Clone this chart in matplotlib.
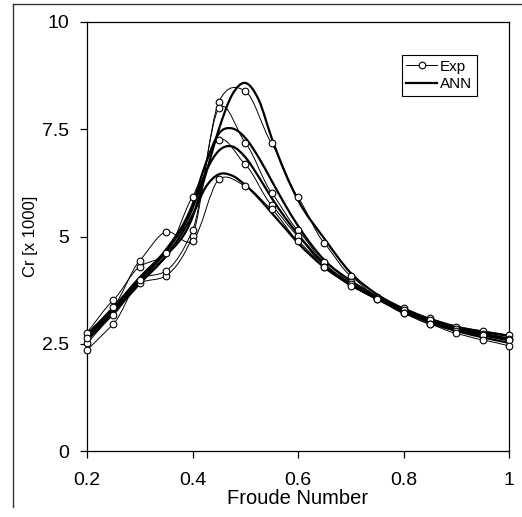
import numpy as np
import matplotlib
matplotlib.use("Agg")
import matplotlib.pyplot as plt
from matplotlib.path import Path
from matplotlib.patches import PathPatch
from matplotlib.lines import Line2D

plt.rcParams['font.family'] = ['Liberation Sans', 'DejaVu Sans']

# ---- data ----
fn_exp = [0.2, 0.25, 0.3, 0.35, 0.4, 0.45, 0.5, 0.55, 0.6, 0.65, 0.7, 0.75, 0.8, 0.85, 0.9, 0.95, 1.0]
exp1 = [2.51, 3.17, 3.91, 4.09, 5.01, 8.14, 8.39, 7.17, 5.91, 4.84, 4.08, 3.60, 3.33, 3.09, 2.90, 2.80, 2.70]
exp2 = [2.35, 2.96, 3.99, 4.20, 5.14, 7.99, 7.19, 6.02, 5.14, 4.41, 3.95, 3.57, 3.28, 3.05, 2.85, 2.72, 2.62]
exp3 = [2.76, 3.52, 4.30, 4.61, 5.93, 7.26, 6.68, 5.73, 5.01, 4.30, 3.90, 3.54, 3.21, 2.96, 2.80, 2.70, 2.59]
exp4 = [2.63, 3.36, 4.44, 5.11, 4.90, 6.33, 6.18, 5.63, 4.90, 4.30, 3.85, 3.54, 3.21, 2.96, 2.74, 2.59, 2.45]

fn_ann = [0.2, 0.25, 0.3, 0.35, 0.4, 0.425, 0.45, 0.475, 0.5, 0.525, 0.55, 0.575, 0.6,
          0.65, 0.7, 0.75, 0.8, 0.85, 0.9, 0.95, 1.0]
ann1 = [2.62, 3.25, 3.95, 4.55, 5.45, 6.45, 7.50, 8.30, 8.58, 8.20, 7.30, 6.50, 5.85,
        4.95, 4.15, 3.65, 3.32, 3.08, 2.90, 2.78, 2.68]
ann2 = [2.72, 3.35, 4.05, 4.70, 5.75, 6.70, 7.40, 7.52, 7.30, 6.85, 6.30, 5.75, 5.25,
        4.45, 3.97, 3.60, 3.30, 3.06, 2.87, 2.74, 2.62]
ann3 = [2.68, 3.30, 4.00, 4.65, 5.65, 6.50, 7.00, 7.10, 6.85, 6.40, 5.90, 5.45, 5.05,
        4.35, 3.90, 3.56, 3.26, 3.03, 2.84, 2.70, 2.58]
ann4 = [2.58, 3.22, 3.90, 4.55, 5.50, 6.15, 6.45, 6.42, 6.20, 5.90, 5.55, 5.20, 4.85,
        4.28, 3.87, 3.54, 3.24, 3.00, 2.80, 2.65, 2.52]

xticks = [0.2, 0.4, 0.6, 0.8, 1.0]
xticklabels = ["0.2", "0.4", "0.6", "0.8", "1"]
yticks = [0, 2.5, 5, 7.5, 10]
yticklabels = ["0", "2.5", "5", "7.5", "10"]


def smooth_path(x, y, tension=1.0):
    x = np.asarray(x, float)
    y = np.asarray(y, float)
    h = np.diff(x)
    d = np.diff(y) / h
    m = np.empty_like(y)
    m[0] = d[0]
    m[-1] = d[-1]
    for i in range(1, len(x) - 1):
        m[i] = tension * (h[i] * d[i - 1] + h[i - 1] * d[i]) / (h[i - 1] + h[i])
    verts = [(x[0], y[0])]
    codes = [Path.MOVETO]
    for i in range(len(x) - 1):
        hh = h[i]
        verts += [(x[i] + hh / 3, y[i] + m[i] * hh / 3),
                  (x[i + 1] - hh / 3, y[i + 1] - m[i + 1] * hh / 3),
                  (x[i + 1], y[i + 1])]
        codes += [Path.CURVE4] * 3
    return Path(verts, codes)


W, H = 522, 517
fig = plt.figure(figsize=(W / 100, H / 100), dpi=100)
ax = fig.add_axes([87 / W, 1 - 451 / H, 422 / W, 429 / H])

for a in [ann1, ann2, ann3, ann4]:
    ax.add_patch(PathPatch(smooth_path(fn_ann, a), fill=False, edgecolor='black',
                           linewidth=1.6, zorder=2))
for e in [exp1, exp2, exp3, exp4]:
    ax.add_patch(PathPatch(smooth_path(fn_exp, e, tension=0.75), fill=False,
                           edgecolor='black', linewidth=0.7, zorder=3))
    ax.plot(fn_exp, e, linestyle='none', marker='o', ms=4.8, mfc='white',
            mec='black', mew=0.8, zorder=4, clip_on=False)

ax.set_xlim(0.2, 1.0)
ax.set_ylim(0, 10)
ax.set_xticks(xticks)
ax.set_xticklabels(xticklabels)
ax.set_yticks(yticks)
ax.set_yticklabels(yticklabels)
ax.tick_params(axis='both', direction='out', length=5, width=0.9, color='black',
               labelsize=14)
ax.tick_params(axis='x', pad=10)
ax.tick_params(axis='y', pad=8)
for s in ax.spines.values():
    s.set_linewidth(0.9)
    s.set_color('black')

ax.set_xlabel("Froude Number", fontsize=14.5, labelpad=0)
ax.set_ylabel("Cr [x 1000]", fontsize=12, labelpad=3)

handles = [Line2D([], [], color='black', lw=0.7, marker='o', ms=4.8, mfc='white',
                  mec='black', mew=0.8),
           Line2D([], [], color='black', lw=1.6)]
leg = ax.legend(handles, ["Exp", "ANN"], loc='upper left',
                bbox_to_anchor=(0.746, 0.923), fontsize=11, handlelength=2.0,
                handletextpad=0.2, borderpad=0.3, labelspacing=0.25,
                borderaxespad=0, fancybox=False, framealpha=1)
leg.get_frame().set_edgecolor('black')
leg.get_frame().set_linewidth(0.8)

# outer border lines
fig.add_artist(Line2D([13 / W, 13 / W], [1 - 507 / H, 1 - 4 / H], color='#333333', lw=1,
                      transform=fig.transFigure))
fig.add_artist(Line2D([13 / W, 1.0], [1 - 4 / H, 1 - 4 / H], color='#333333', lw=1,
                      transform=fig.transFigure))

fig.savefig("out.png", dpi=100)
